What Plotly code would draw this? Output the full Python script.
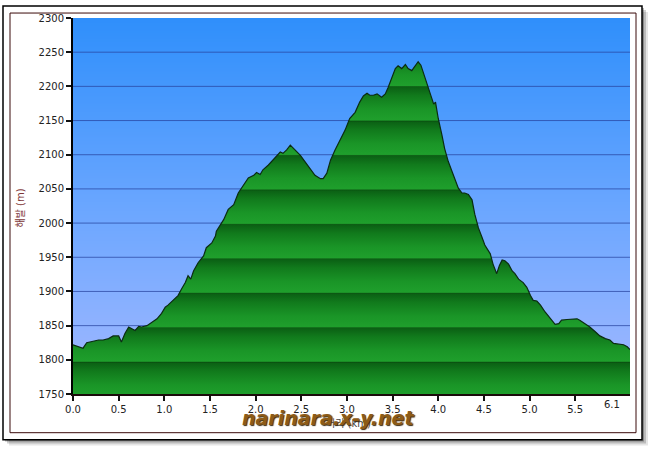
import plotly.graph_objects as go

# ---- data ----
distance_km = [
    0.00, 0.08, 0.11, 0.15, 0.22, 0.28, 0.33, 0.39, 0.44, 0.50, 0.53, 0.57, 0.61, 0.64, 0.68,
    0.72, 0.75, 0.81, 0.86, 0.92, 0.97, 1.01, 1.04, 1.10, 1.15, 1.19, 1.23, 1.26, 1.29, 1.32,
    1.37, 1.43, 1.46, 1.52, 1.56, 1.57, 1.65, 1.70, 1.76, 1.81, 1.87, 1.92, 1.98, 2.01, 2.05,
    2.08, 2.14, 2.19, 2.23, 2.27, 2.30, 2.34, 2.38, 2.41, 2.45, 2.49, 2.54, 2.60, 2.65, 2.71,
    2.74, 2.78, 2.82, 2.87, 2.92, 2.98, 3.03, 3.09, 3.14, 3.18, 3.22, 3.25, 3.29, 3.33, 3.38,
    3.42, 3.45, 3.49, 3.53, 3.56, 3.60, 3.64, 3.67, 3.71, 3.75, 3.78, 3.81, 3.85, 3.89, 3.92,
    3.95, 3.97, 4.00, 4.04, 4.07, 4.11, 4.15, 4.18, 4.22, 4.26, 4.29, 4.33, 4.37, 4.40, 4.44,
    4.48, 4.51, 4.57, 4.60, 4.64, 4.67, 4.70, 4.73, 4.77, 4.81, 4.84, 4.88, 4.93, 4.97, 5.01,
    5.04, 5.08, 5.12, 5.17, 5.23, 5.28, 5.32, 5.35, 5.41, 5.46, 5.52, 5.55, 5.61, 5.66, 5.72,
    5.77, 5.83, 5.88, 5.92, 5.97, 6.03, 6.07, 6.10,
]
elevation_m = [
    1822, 1819, 1817, 1825, 1827, 1829, 1829, 1831, 1835, 1835, 1826, 1839, 1848, 1846, 1843,
    1849, 1848, 1850, 1855, 1860, 1868, 1877, 1880, 1887, 1894, 1904, 1913, 1923, 1918, 1930,
    1942, 1952, 1964, 1971, 1981, 1988, 2005, 2020, 2027, 2044, 2056, 2066, 2070, 2074, 2071,
    2078, 2085, 2092, 2099, 2104, 2102, 2107, 2114, 2110, 2104, 2099, 2090, 2080, 2070, 2065,
    2065, 2073, 2092, 2107, 2121, 2136, 2153, 2162, 2177, 2186, 2190, 2187, 2187, 2189, 2184,
    2189, 2198, 2213, 2226, 2230, 2226, 2232, 2226, 2223, 2230, 2236, 2231, 2215, 2198, 2184,
    2174, 2177, 2153, 2129, 2109, 2090, 2075, 2063, 2051, 2044, 2044, 2042, 2034, 2013, 1993,
    1979, 1968, 1955, 1940, 1926, 1938, 1946, 1945, 1940, 1930, 1926, 1918, 1913, 1906, 1894,
    1887, 1886, 1880, 1870, 1860, 1852, 1853, 1858, 1859, 1859, 1860, 1858, 1853, 1848, 1841,
    1835, 1831, 1829, 1824, 1823, 1822, 1819, 1815,
]
x_ticks = [0.0, 0.5, 1.0, 1.5, 2.0, 2.5, 3.0, 3.5, 4.0, 4.5, 5.0, 5.5, 6.1]
x_tick_labels = ["0.0", "0.5", "1.0", "1.5", "2.0", "2.5", "3.0", "3.5", "4.0", "4.5", "5.0", "5.5", "6.1"]
y_ticks = [1750, 1800, 1850, 1900, 1950, 2000, 2050, 2100, 2150, 2200, 2250, 2300]
x_title = "거리 (km)"
y_title = "해발 (m)"
watermark = "narinara.x-y.net"

x_min, x_max = x_ticks[0], x_ticks[-1]
y_min, y_max = y_ticks[0], y_ticks[-1]

# ---- layout geometry (pixels) ----
W, H = 650, 449
ML, MR, MT, MB = 73, 20, 15, 55
PW, PH = W - ML - MR, H - MT - MB


def px(xp):
    return (xp - ML) / PW


def py(yp):
    return (H - MB - yp) / PH


fig = go.Figure()

# background blue gradient
fig.add_trace(go.Heatmap(
    x=[x_min, x_max], y=[y_min, y_max], z=[[0, 0], [1, 1]],
    zsmooth="best", showscale=False, hoverinfo="skip",
    colorscale=[[0, "#a4b9ff"], [0.5, "#6aa6ff"], [1, "#2f8ffb"]],
))

# gridlines in the sky part
gx, gy = [], []
for v in y_ticks[1:-1]:
    gx += [x_min, x_max, None]
    gy += [v, v, None]
fig.add_trace(go.Scatter(x=gx, y=gy, mode="lines",
                         line=dict(color="rgba(40,70,160,0.75)", width=1),
                         hoverinfo="skip", showlegend=False))

# banded green fill colorscale
span = y_max - y_min
cs = []
for lo, hi in zip(y_ticks[:-1], y_ticks[1:]):
    p0 = (lo - y_min) / span
    p1 = (hi - y_min) / span
    bw = p1 - p0
    cs.append([p0, "#0a5010"])
    cs.append([p0 + 0.04 * bw, "#1f9f2c"])
    cs.append([p0 + 0.35 * bw, "#1a9527"])
    cs.append([p0 + 0.75 * bw, "#117a1c"])
    cs.append([p1 - 0.01 * bw, "#0b6014"])
cs.append([1.0, "#0b6014"])

fig.add_trace(go.Scatter(
    x=distance_km, y=elevation_m, mode="lines", fill="tozeroy",
    line=dict(color="#0b2c12", width=1.2),
    fillgradient=dict(type="vertical", colorscale=cs, start=y_min, stop=y_max),
    hoverinfo="skip", showlegend=False,
))

# frame shapes
shapes = []
for off, op in [(6, 0.10), (4, 0.18), (2, 0.28)]:
    shapes.append(dict(type="rect", xref="paper", yref="paper", layer="below",
                       x0=px(3 + off), x1=px(642 + off), y0=py(440 + off), y1=py(3 + off),
                       fillcolor=f"rgba(0,0,0,{op})", line=dict(width=0)))
shapes.append(dict(type="rect", xref="paper", yref="paper", layer="below",
                   x0=px(3), x1=px(642), y0=py(440), y1=py(3),
                   fillcolor="white", line=dict(color="#000000", width=1.5)))
shapes.append(dict(type="rect", xref="paper", yref="paper", layer="below",
                   x0=px(10), x1=px(636), y0=py(433), y1=py(10),
                   fillcolor="rgba(0,0,0,0)", line=dict(color="#3a0a0a", width=1)))

annotations = [
    dict(text=y_title, xref="paper", yref="paper", x=px(20), y=py(207),
         textangle=-90, showarrow=False, xanchor="center", yanchor="middle",
         font=dict(family="DejaVu Sans, Noto Sans CJK KR", size=10, color="#7d3535")),
    dict(text=x_title, xref="paper", yref="paper", x=px(348), y=py(424),
         showarrow=False, xanchor="center", yanchor="middle",
         font=dict(family="DejaVu Sans, Noto Sans CJK KR", size=10, color="#444444")),
    dict(text=x_tick_labels[-1], xref="x", yref="paper", x=x_ticks[-1], y=py(405),
         xshift=-8, showarrow=False, xanchor="right", yanchor="middle",
         font=dict(family="DejaVu Sans", size=10, color="#222222")),
    dict(text="<b><i>" + watermark + "</i></b>", xref="paper", yref="paper",
         x=px(328), y=py(418), showarrow=False, xanchor="center", yanchor="middle",
         font=dict(family="DejaVu Sans", size=19, color="#8d5b17",
                   shadow="1px 1px 1px #3b2a10")),
]

fig.update_layout(
    width=W, height=H,
    margin=dict(l=ML, r=MR, t=MT, b=MB),
    paper_bgcolor="white", plot_bgcolor="#6aa6ff",
    showlegend=False,
    shapes=shapes, annotations=annotations,
    xaxis=dict(range=[x_min, x_max], tickvals=x_ticks[:-1], ticktext=x_tick_labels[:-1],
               showgrid=False, zeroline=False, showline=True, linecolor="#1a0a0a", linewidth=2,
               ticks="outside", ticklen=5, tickwidth=1.5, tickcolor="#111111",
               tickfont=dict(family="DejaVu Sans", size=10, color="#222222"), layer="above traces"),
    yaxis=dict(range=[y_min, y_max], tickvals=y_ticks, showgrid=False, zeroline=False,
               showline=True, linecolor="#000000", linewidth=2,
               ticks="outside", ticklen=5, tickwidth=1.5, tickcolor="#111111",
               tickfont=dict(family="DejaVu Sans", size=10, color="#222222"), layer="above traces"),
)

fig.write_html(
    "out.html",
    config={"displayModeBar": False},
    post_script="document.body.style.margin='0';document.body.style.padding='0';",
)
